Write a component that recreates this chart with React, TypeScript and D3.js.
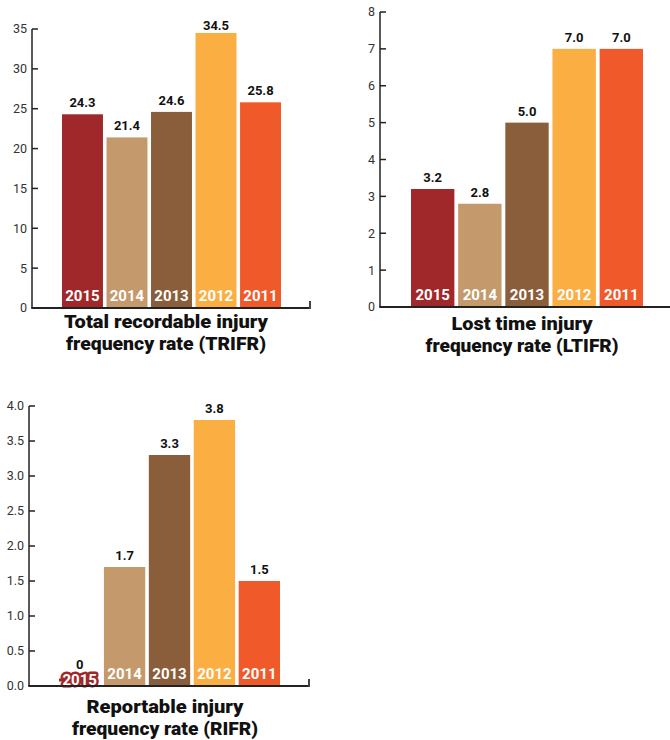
import React from "react";
import * as d3 from "d3";

const years = ["2015", "2014", "2013", "2012", "2011"];
const trifrValues = [24.3, 21.4, 24.6, 34.5, 25.8];
const ltifrValues = [3.2, 2.8, 5.0, 7.0, 7.0];
const rifrValues = [0, 1.7, 3.3, 3.8, 1.5];
const trifrTicks = [0, 5, 10, 15, 20, 25, 30, 35];
const ltifrTicks = [0, 1, 2, 3, 4, 5, 6, 7, 8];
const rifrTicks = [0, 0.5, 1.0, 1.5, 2.0, 2.5, 3.0, 3.5, 4.0];
const trifrTitle = ["Total recordable injury", "frequency rate (TRIFR)"];
const ltifrTitle = ["Lost time injury", "frequency rate (LTIFR)"];
const rifrTitle = ["Reportable injury", "frequency rate (RIFR)"];

const colors = ["#A0282A", "#C49A6C", "#8B5E3B", "#FBAE42", "#F05A2A"];
const FONT = "Roboto, 'Noto Sans', sans-serif";

type ChartProps = {
  values: number[];
  ticks: number[];
  tickFmt: (v: number) => string;
  title: string[];
  axisX: number;
  y0: number;
  yTop: number;
  barStart: number;
  barEnd: number;
  axisEnd: number;
  endTick: boolean;
  titleX: number;
  titleY: number;
  titleWidths: number[];
  topClamp: number;
};

function BarChart(p: ChartProps) {
  const max = p.ticks[p.ticks.length - 1];
  const y = d3.scaleLinear().domain([0, max]).range([p.y0, p.yTop]);
  const x = d3
    .scaleBand<string>()
    .domain(years)
    .range([p.barStart, p.barEnd])
    .paddingInner(0.08)
    .paddingOuter(0);
  const bw = x.bandwidth();
  return (
    <g>
      {years.map((yr, i) => {
        const v = p.values[i];
        const top = y(v);
        const cx = (x(yr) as number) + bw / 2;
        const labelY = Math.max(top - 7, p.topClamp);
        return (
          <g key={yr}>
            <rect x={x(yr)} y={top} width={bw} height={p.y0 - top} fill={colors[i]} />
            {v === 0 && (
              <line x1={x(yr) as number} x2={cx} y1={p.y0 - 6} y2={p.y0 - 6} stroke={colors[i]} strokeWidth={3} />
            )}
            <text
              x={cx}
              y={v === 0 ? p.y0 - 17 : labelY}
              textAnchor="middle"
              fontFamily={FONT}
              fontWeight={700}
              fontSize={13}
              fill="#111"
            >
              {v === 0 ? "0" : v.toFixed(1)}
            </text>
            <text
              x={cx}
              y={v === 0 ? p.y0 - 1 : p.y0 - 7}
              textAnchor="middle"
              fontFamily={FONT}
              fontWeight={700}
              fontSize={15}
              fill="#fff"
              stroke={v === 0 ? colors[i] : "none"}
              strokeWidth={v === 0 ? 5 : 0}
              strokeLinejoin="round"
              style={{ paintOrder: "stroke" }}
            >
              {yr}
            </text>
          </g>
        );
      })}
      <line x1={p.axisX} x2={p.axisX} y1={p.yTop} y2={p.y0} stroke="#222" strokeWidth={1.5} />
      {p.ticks.map((t) => (
        <g key={t}>
          <line x1={p.axisX} x2={p.axisX + 6} y1={y(t)} y2={y(t)} stroke="#222" strokeWidth={1.5} />
          <text
            x={p.axisX - 5}
            y={y(t)}
            dy="0.35em"
            textAnchor="end"
            fontFamily={FONT}
            fontSize={12.5}
            fill="#333"
          >
            {p.tickFmt(t)}
          </text>
        </g>
      ))}
      <line x1={p.axisX - 0.75} x2={p.axisEnd} y1={p.y0} y2={p.y0} stroke="#222" strokeWidth={2} />
      {p.endTick && (
        <line x1={p.axisEnd - 1} x2={p.axisEnd - 1} y1={p.y0 + 1} y2={p.y0 - 7} stroke="#444" strokeWidth={2} />
      )}
      {p.title.map((t, i) => (
        <text
          key={i}
          x={p.titleX}
          y={p.titleY + i * 22}
          textAnchor="middle"
          fontFamily={FONT}
          fontWeight={900}
          fontSize={19}
          fill="#111"
          textLength={p.titleWidths[i]}
          lengthAdjust="spacingAndGlyphs"
        >
          {t}
        </text>
      ))}
    </g>
  );
}

export default function App() {
  return (
    <svg
      width={670}
      height={740}
      style={{ position: "absolute", left: 0, top: 0, background: "#fff" }}
    >
      <BarChart
        values={trifrValues}
        ticks={trifrTicks}
        tickFmt={(v) => String(v)}
        title={trifrTitle}
        axisX={32}
        y0={308}
        yTop={29}
        barStart={62}
        barEnd={281}
        axisEnd={311}
        endTick={true}
        titleX={166}
        titleY={328}
        titleWidths={[204, 200]}
        topClamp={30}
      />
      <BarChart
        values={ltifrValues}
        ticks={ltifrTicks}
        tickFmt={(v) => String(v)}
        title={ltifrTitle}
        axisX={380}
        y0={307}
        yTop={12}
        barStart={411}
        barEnd={643}
        axisEnd={672}
        endTick={false}
        titleX={522}
        titleY={330}
        titleWidths={[141, 193]}
        topClamp={30}
      />
      <BarChart
        values={rifrValues}
        ticks={rifrTicks}
        tickFmt={(v) => v.toFixed(1)}
        title={rifrTitle}
        axisX={29}
        y0={686}
        yTop={406}
        barStart={59}
        barEnd={280}
        axisEnd={310}
        endTick={true}
        titleX={165}
        titleY={713}
        titleWidths={[157, 186]}
        topClamp={400}
      />
    </svg>
  );
}
